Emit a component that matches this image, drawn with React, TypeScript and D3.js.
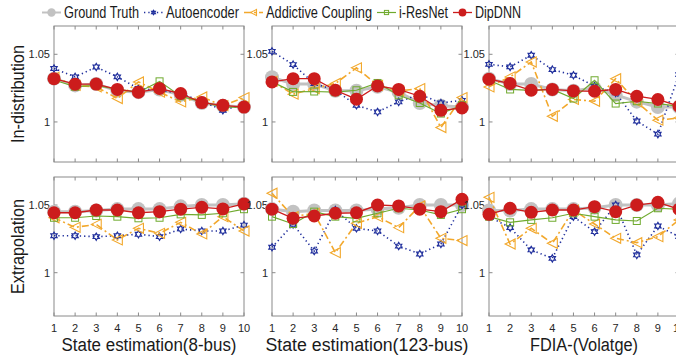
import React from 'react';
import * as d3 from 'd3';

// x categories (test case index)
const steps = [1, 2, 3, 4, 5, 6, 7, 8, 9, 10];
const panelTitles = ['State estimation(8-bus)', 'State estimation(123-bus)', 'FDIA-(Volatge)'];
const rowTitles = ['In-distribution', 'Extrapolation'];
const yTicks = [1, 1.05];

// each array: [8-bus, 123-bus, FDIA] x 10 steps
const groundTruthIn = [
  [1.032, 1.027, 1.028, 1.023, 1.022, 1.024, 1.020, 1.014, 1.012, 1.011],
  [1.033, 1.028, 1.028, 1.023, 1.023, 1.026, 1.022, 1.014, 1.012, 1.011],
  [1.032, 1.028, 1.028, 1.024, 1.023, 1.025, 1.020, 1.015, 1.011, 1.011],
];
const autoencoderIn = [
  [1.0395, 1.0333, 1.0406, 1.0333, 1.0247, 1.0234, 1.021, 1.0153, 1.0086, 1.013],
  [1.0522, 1.0424, 1.0284, 1.0234, 1.0123, 1.0074, 1.0148, 1.0205, 1.014, 1.016],
  [1.0426, 1.0407, 1.0493, 1.0387, 1.0345, 1.0264, 1.0215, 1.0007, 0.991, 1.035],
];
const couplingIn = [
  [1.033, 1.027, 1.026, 1.0173, 1.0296, 1.022, 1.0148, 1.0185, 1.012, 1.018],
  [1.030, 1.0205, 1.0247, 1.0284, 1.040, 1.0271, 1.0229, 1.0247, 0.9959, 1.018],
  [1.0259, 1.0333, 1.0443, 1.0042, 1.0166, 1.0153, 1.032, 1.0148, 1.0013, 1.003],
];
const iResNetIn = [
  [1.031, 1.026, 1.027, 1.024, 1.022, 1.030, 1.019, 1.015, 1.011, 1.011],
  [1.0296, 1.0222, 1.0225, 1.022, 1.0234, 1.0288, 1.0197, 1.014, 1.0062, 1.0123],
  [1.0308, 1.024, 1.0234, 1.024, 1.0173, 1.0308, 1.0136, 1.0153, 1.0136, 1.0116],
];
const dipDNNIn = [
  [1.032, 1.0279, 1.028, 1.024, 1.022, 1.0247, 1.021, 1.0143, 1.0123, 1.011],
  [1.0296, 1.032, 1.032, 1.0234, 1.0168, 1.0266, 1.024, 1.019, 1.0086, 1.0103],
  [1.0316, 1.0284, 1.0234, 1.024, 1.0229, 1.0227, 1.024, 1.019, 1.0166, 1.0116],
];
const groundTruthEx = [
  [1.045, 1.045, 1.046, 1.047, 1.047, 1.047, 1.049, 1.050, 1.050, 1.051],
  [1.047, 1.045, 1.046, 1.046, 1.046, 1.047, 1.048, 1.050, 1.050, 1.050],
  [1.046, 1.046, 1.047, 1.047, 1.047, 1.048, 1.050, 1.050, 1.050, 1.051],
];
const autoencoderEx = [
  [1.0273, 1.0273, 1.0266, 1.0273, 1.0284, 1.0266, 1.0323, 1.0308, 1.0308, 1.0352],
  [1.0188, 1.0357, 1.016, 1.0463, 1.0328, 1.0308, 1.0197, 1.0138, 1.0212, 1.050],
  [1.0414, 1.0333, 1.0168, 1.0106, 1.0414, 1.0303, 1.050, 1.0131, 1.0345, 1.0266],
];
const couplingEx = [
  [1.0406, 1.0335, 1.0357, 1.0242, 1.0328, 1.0291, 1.0372, 1.0286, 1.0414, 1.0308],
  [1.0587, 1.0414, 1.0439, 1.0148, 1.0365, 1.0414, 1.0333, 1.0493, 1.0254, 1.0237],
  [1.0557, 1.0212, 1.0328, 1.0217, 1.0463, 1.036, 1.0254, 1.0222, 1.0266, 1.039],
];
const iResNetEx = [
  [1.0406, 1.0406, 1.0419, 1.0414, 1.0402, 1.0406, 1.0431, 1.0427, 1.0439, 1.0469],
  [1.0414, 1.036, 1.0451, 1.0414, 1.0402, 1.0439, 1.0476, 1.0463, 1.0427, 1.0469],
  [1.0414, 1.0372, 1.039, 1.0406, 1.0439, 1.0414, 1.039, 1.0382, 1.0476, 1.0469],
];
const dipDNNEx = [
  [1.0443, 1.0443, 1.0463, 1.0463, 1.0443, 1.0451, 1.0469, 1.0483, 1.0471, 1.0508],
  [1.0469, 1.0402, 1.0419, 1.0439, 1.0443, 1.050, 1.0493, 1.0469, 1.0451, 1.0542],
  [1.0431, 1.0476, 1.0446, 1.0463, 1.0463, 1.0488, 1.0451, 1.050, 1.052, 1.0469],
];

const methods = [
  { name: 'Ground Truth', color: '#c2c2c2', width: 3, dash: null, marker: 'bigdot', rows: [groundTruthIn, groundTruthEx], legendW: 75 },
  { name: 'Autoencoder', color: '#1f2e9c', width: 1.6, dash: '1.3,3', marker: 'hexagram', rows: [autoencoderIn, autoencoderEx], legendW: 73 },
  { name: 'Addictive Coupling', color: '#f2a82c', width: 1.6, dash: '7,3,2,3', marker: 'triangle', rows: [couplingIn, couplingEx], legendW: 106 },
  { name: 'i-ResNet', color: '#6faa2e', width: 1.2, dash: null, marker: 'square', rows: [iResNetIn, iResNetEx], legendW: 49 },
  { name: 'DipDNN', color: '#cc1c1c', width: 1.3, dash: null, marker: 'dot', rows: [dipDNNIn, dipDNNEx], legendW: 46 },
];

const FONT = '"Liberation Sans", Arial, Helvetica, sans-serif';
const panelLefts = [54, 272, 489];
const panelW = 190;
const rowsGeom = [
  { top: 26, bottom: 162, domain: [0.9704, 1.0709] },
  { top: 177, bottom: 316, domain: [0.968, 1.0707] },
];

function hexagram(r: number) {
  const pts: [number, number][] = [];
  for (let i = 0; i < 12; i++) {
    const a = (Math.PI / 6) * i - Math.PI / 2;
    const rr = i % 2 === 0 ? r : r * 0.58;
    pts.push([rr * Math.cos(a), rr * Math.sin(a)]);
  }
  return 'M' + pts.map(p => p.join(',')).join('L') + 'Z';
}

function Marker({ kind, x, y, color, small }: any) {
  const k = small ? 0.6 : 1;
  if (kind === 'bigdot') return <circle cx={x} cy={y} r={7 * k} fill={color} />;
  if (kind === 'dot') return <circle cx={x} cy={y} r={6.5 * k} fill={color} />;
  if (kind === 'square') {
    const s = 7 * k;
    return <rect x={x - s / 2} y={y - s / 2} width={s} height={s} fill="none" stroke={color} strokeWidth={1} />;
  }
  if (kind === 'triangle') {
    const s = 5 * k;
    return <path d={`M${x - s},${y}L${x + s},${y - s}L${x + s},${y + s}Z`} fill="none" stroke={color} strokeWidth={1.1} />;
  }
  return <path d={hexagram(3.6 * k)} transform={`translate(${x},${y})`} fill="none" stroke={color} strokeWidth={1.2} />;
}

export default function App() {
  const W = 676, H = 356;
  const boxColor = '#8a8a8a';

  const panels: any[] = [];
  rowsGeom.forEach((rg, ri) => {
    const y = d3.scaleLinear().domain(rg.domain).range([rg.bottom, rg.top]);
    panelLefts.forEach((left, ci) => {
      const x = d3.scaleLinear().domain([1, 10]).range([left, left + panelW]);
      const line = d3.line<number>().x((_, i) => x(steps[i])).y(v => y(v));
      panels.push(
        <g key={`p${ri}-${ci}`}>
          <rect x={left} y={rg.top} width={panelW} height={rg.bottom - rg.top} fill="#fff" stroke={boxColor} strokeWidth={1} />
          {steps.map(s => (
            <g key={`t${s}`}>
              <line x1={x(s)} x2={x(s)} y1={rg.bottom} y2={rg.bottom - 3.5} stroke={boxColor} />
              <line x1={x(s)} x2={x(s)} y1={rg.top} y2={rg.top + 3.5} stroke={boxColor} />
            </g>
          ))}
          {yTicks.map(t => (
            <g key={`y${t}`}>
              <line x1={left} x2={left + 3.5} y1={y(t)} y2={y(t)} stroke={boxColor} />
              <line x1={left + panelW} x2={left + panelW - 3.5} y1={y(t)} y2={y(t)} stroke={boxColor} />
              <text x={left - 4} y={y(t)} dy="0.35em" textAnchor="end" fontSize={11} fill="#262626" fontFamily={FONT}>
                {t === 1 ? '1' : t.toFixed(2)}
              </text>
            </g>
          ))}
          {methods.map(m => {
            const vals: number[] = m.rows[ri][ci];
            return (
              <g key={m.name}>
                <path d={line(vals) || ''} fill="none" stroke={m.color} strokeWidth={m.width}
                  strokeDasharray={m.dash || undefined} />
                {vals.map((v, i) => (
                  <Marker key={i} kind={m.marker} x={x(steps[i])} y={y(v)} color={m.color} />
                ))}
              </g>
            );
          })}
          {ri === 1 && steps.map(s => (
            <text key={`xl${s}`} x={x(s)} y={332} textAnchor="middle" fontSize={11} fill="#262626" fontFamily={FONT}>{s}</text>
          ))}
        </g>
      );
    });
  });

  const titleWidths = [175, 203, 108];
  const legendItems: any[] = [];
  let cx = 42;
  methods.forEach(m => {
    const lx = cx;
    legendItems.push(
      <g key={m.name}>
        <line x1={lx} x2={lx + 19} y1={12.5} y2={12.5} stroke={m.color} strokeWidth={m.width === 3 ? 2 : m.width}
          strokeDasharray={m.dash || undefined} />
        <Marker kind={m.marker} x={lx + 9.5} y={12.5} color={m.color} small />
        <text x={lx + 22} y={12.5} dy="0.35em" fontSize={16} fill="#1a1a1a" fontFamily={FONT}
          textLength={m.legendW} lengthAdjust="spacingAndGlyphs">{m.name}</text>
      </g>
    );
    cx = lx + 22 + m.legendW + 5;
  });

  return (
    <svg width={W} height={H} style={{ position: 'absolute', left: 0, top: 0, background: '#fff' }}>
      {panels}
      {panelTitles.map((t, i) => (
        <text key={t} x={panelLefts[i] + panelW / 2} y={351} textAnchor="middle" fontSize={18} fill="#1a1a1a"
          fontFamily={FONT} textLength={titleWidths[i]} lengthAdjust="spacingAndGlyphs">{t}</text>
      ))}
      {rowTitles.map((t, i) => {
        const cy = (rowsGeom[i].top + rowsGeom[i].bottom) / 2;
        return (
          <text key={t} transform={`translate(24,${cy}) rotate(-90)`} textAnchor="middle" fontSize={18} fill="#1a1a1a"
            fontFamily={FONT} textLength={i === 0 ? 98 : 95} lengthAdjust="spacingAndGlyphs">{t}</text>
        );
      })}
      {legendItems}
    </svg>
  );
}
